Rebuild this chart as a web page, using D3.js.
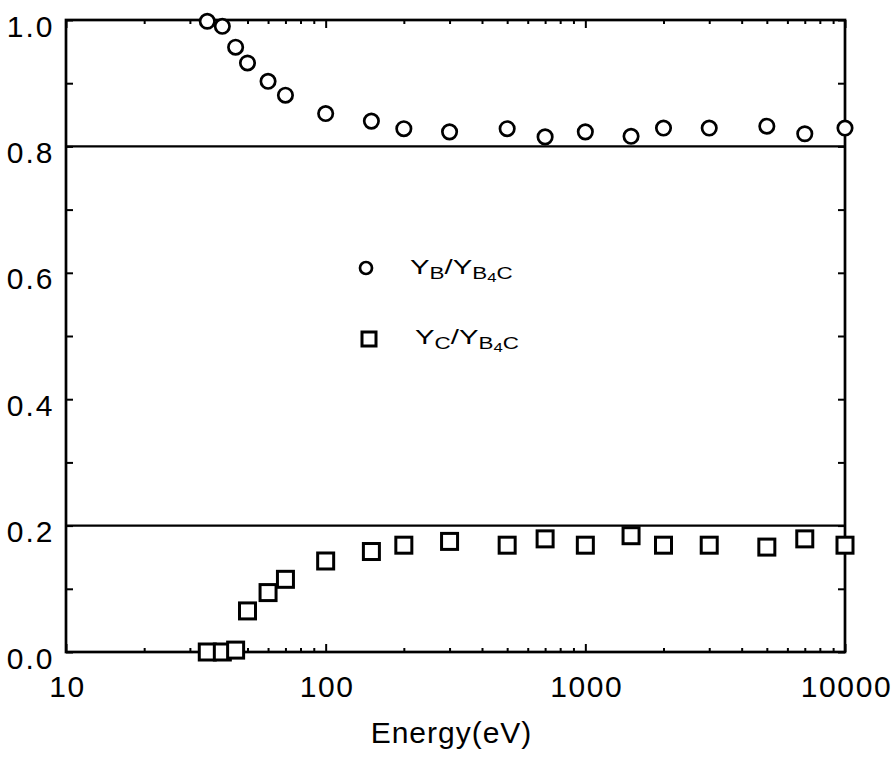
<!DOCTYPE html>
<html>
<head>
<meta charset="utf-8">
<script src="https://cdn.jsdelivr.net/npm/d3@7"></script>
<style>
  body { margin: 0; background: #fff; }
  svg { display: block; font-family: "Liberation Sans", Arial, sans-serif; }
</style>
</head>
<body>
<svg id="chart" width="895" height="757"></svg>
<script>
const energy = [35, 40, 45, 50, 60, 70, 100, 150, 200, 300, 500, 700, 1000, 1500, 2000, 3000, 5000, 7000, 10000]
const ratioB = [0.998, 0.990, 0.957, 0.932, 0.903, 0.881, 0.852, 0.840, 0.828, 0.823, 0.828, 0.815, 0.823, 0.816, 0.829, 0.829, 0.832, 0.820, 0.829]
const ratioC = [0.0, 0.0, 0.003, 0.065, 0.094, 0.115, 0.144, 0.159, 0.169, 0.175, 0.169, 0.179, 0.169, 0.184, 0.169, 0.169, 0.166, 0.179, 0.169]
const xMajor = [10, 100, 1000, 10000]
const yMajor = [0, 0.2, 0.4, 0.6, 0.8, 1.0]
const refLines = [0.8, 0.2]

const svg = d3.select('#chart')
const plotL = 66, plotR = 845, plotT = 20, plotB = 652
const fontFam = '"Liberation Sans", Arial, sans-serif'

const x = d3.scaleLog().domain([10, 10000]).range([plotL, plotR])
const y = d3.scaleLinear().domain([0, 1]).range([plotB, plotT])

let xMinor = []
for (let dec = 10; dec < 10000; dec *= 10) {
  for (let k = 2; k <= 9; k++) xMinor.push(dec * k)
}
const yMinor = d3.range(0, 1.0001, 0.1)

function styleAxis (g) {
  g.select('.domain').remove()
  g.selectAll('line').attr('stroke', '#000').attr('stroke-width', 2)
}

// ticks, all pointing inward
svg.append('g').attr('transform', `translate(0,${plotB})`)
  .call(d3.axisBottom(x).tickValues(xMinor).tickSize(-4).tickFormat(''))
  .call(styleAxis)
svg.append('g').attr('transform', `translate(0,${plotT})`)
  .call(d3.axisTop(x).tickValues(xMinor).tickSize(-4).tickFormat(''))
  .call(styleAxis)
svg.append('g').attr('transform', `translate(0,${plotT})`)
  .call(d3.axisTop(x).tickValues(xMajor).tickSize(-8).tickFormat(''))
  .call(styleAxis)

const xAxis = svg.append('g').attr('transform', `translate(0,${plotB})`)
  .call(d3.axisBottom(x).tickValues(xMajor).tickSize(-8).tickFormat(d3.format('d')))
  .call(styleAxis)
xAxis.selectAll('text')
  .attr('y', 45).attr('dy', null).attr('x', 1)
  .attr('font-size', 30).attr('font-family', fontFam)
  .attr('letter-spacing', 1.6)
  .attr('fill', '#000')

svg.append('g').attr('transform', `translate(${plotR},0)`)
  .call(d3.axisRight(y).tickValues(yMinor).tickSize(-7).tickFormat(''))
  .call(styleAxis)
const yAxis = svg.append('g').attr('transform', `translate(${plotL},0)`)
  .call(d3.axisLeft(y).tickValues(yMinor).tickSize(-7).tickFormat(d => yMajor.some(v => Math.abs(v - d) < 1e-6) ? d3.format('.1f')(d) : ''))
  .call(styleAxis)
yAxis.selectAll('text')
  .attr('x', -11.5).attr('dy', null).attr('y', 16)
  .attr('font-size', 30).attr('font-family', fontFam)
  .attr('letter-spacing', 2)
  .attr('fill', '#000')

// frame
svg.append('rect')
  .attr('x', plotL).attr('y', plotT)
  .attr('width', plotR - plotL).attr('height', plotB - plotT)
  .attr('fill', 'none').attr('stroke', '#000').attr('stroke-width', 2.7)

// reference lines
svg.selectAll('.ref').data(refLines).enter().append('line')
  .attr('x1', plotL).attr('x2', plotR)
  .attr('y1', d => y(d)).attr('y2', d => y(d))
  .attr('stroke', '#000').attr('stroke-width', 2.2)

// circles: Y_B / Y_B4C
svg.selectAll('.ptB').data(energy).enter().append('circle')
  .attr('cx', d => x(d))
  .attr('cy', (d, i) => y(ratioB[i]))
  .attr('r', 7.2)
  .attr('fill', '#fff').attr('stroke', '#000').attr('stroke-width', 2.7)

// squares: Y_C / Y_B4C
const sq = 16
svg.selectAll('.ptC').data(energy).enter().append('rect')
  .attr('x', d => x(d) - sq / 2)
  .attr('y', (d, i) => y(ratioC[i]) - sq / 2)
  .attr('width', sq).attr('height', sq)
  .attr('fill', '#fff').attr('stroke', '#000').attr('stroke-width', 3)

// x axis title
svg.append('text')
  .attr('x', (plotL + plotR) / 2 - 4).attr('y', 743)
  .attr('text-anchor', 'middle').attr('font-size', 30)
  .attr('letter-spacing', 1)
  .text('Energy(eV)')

// legend
svg.append('circle').attr('cx', 366).attr('cy', 268).attr('r', 6)
  .attr('fill', '#fff').attr('stroke', '#000').attr('stroke-width', 2.7)
svg.append('rect').attr('x', 362).attr('y', 332).attr('width', 14).attr('height', 14)
  .attr('fill', '#fff').attr('stroke', '#000').attr('stroke-width', 3)

// the legend lettering in the reference is drawn wide, so stretch it
function legendLabel (lx, ly, sub) {
  const t = svg.append('text')
    .attr('transform', `translate(${lx},${ly}) scale(1.4,1)`)
    .attr('font-size', 21)
  t.append('tspan').text('Y')
  t.append('tspan').attr('font-size', 16).attr('dy', 5).text(sub)
  t.append('tspan').attr('dy', -5).text('/Y')
  t.append('tspan').attr('font-size', 16).attr('dy', 5).text('B')
  t.append('tspan').attr('font-size', 12).attr('dy', 3).text('4')
  t.append('tspan').attr('font-size', 16).attr('dy', -3).text('C')
}
legendLabel(410, 274, 'B')
legendLabel(415, 344, 'C')
</script>
</body>
</html>
